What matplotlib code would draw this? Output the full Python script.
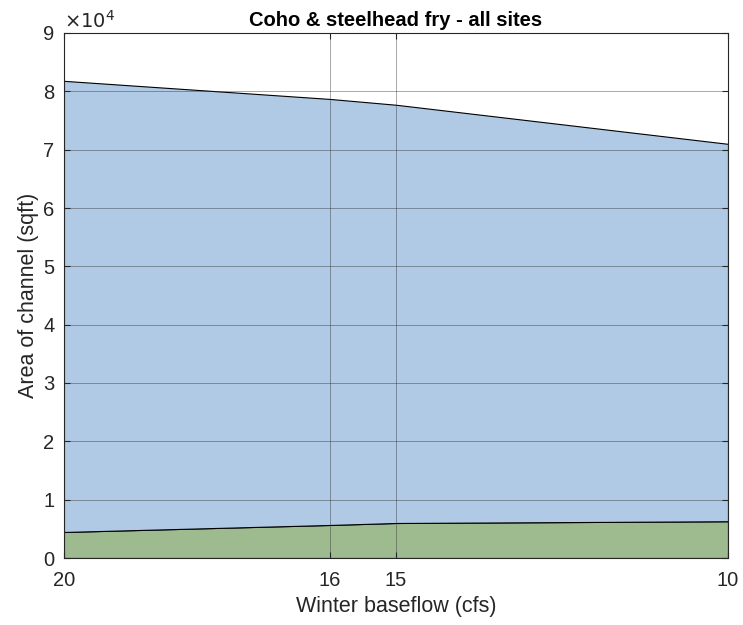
import matplotlib.pyplot as plt

plt.rcParams['font.family'] = ['Liberation Sans', 'DejaVu Sans']

# winter baseflow scenarios (cfs) and habitat area (sqft)
flows = [20, 16, 15, 10]
tick_labels = ['20', '16', '15', '10']
area_green = [4460, 5660, 6000, 6300]
area_blue = [77340, 73040, 71700, 64700]

fig = plt.figure(figsize=(7.43, 6.25), dpi=100)
ax = fig.add_axes([0.0861, 0.1072, 0.8937, 0.84])

ax.stackplot(flows, area_green, area_blue,
             colors=['#9ebb8f', '#b0c9e4'],
             edgecolor='black', linewidth=0.8, zorder=1)

ax.set_xlim(20, 10)
ax.set_ylim(0, 90000)
ax.set_xticks(flows)
ax.set_xticklabels(tick_labels)
ax.set_yticks(range(0, 90001, 10000))
ax.set_yticklabels([str(i) for i in range(10)])

ax.grid(True, color='#262626', linewidth=0.7, alpha=0.4, zorder=3)
ax.set_axisbelow(False)
for sp in ax.spines.values():
    sp.set_color('#262626')
    sp.set_linewidth(0.8)
    sp.set_zorder(4)
ax.tick_params(direction='in', length=4, colors='#262626', labelsize=14.5,
               top=True, right=True)
ax.tick_params(axis='x', pad=9)
ax.tick_params(axis='y', pad=7)

ax.text(0.0, 1.003, r'$\times10^{4}$', transform=ax.transAxes,
        fontsize=14, color='#262626', ha='left', va='bottom')
ax.set_title('Coho & steelhead fry - all sites', fontsize=14.5,
             fontweight='bold', pad=5)
ax.set_xlabel('Winter baseflow (cfs)', fontsize=15.5, color='#262626',
              labelpad=5)
ax.set_ylabel('Area of channel (sqft)', fontsize=15.5, color='#262626',
              labelpad=3)

fig.savefig('out.png', dpi=100)
